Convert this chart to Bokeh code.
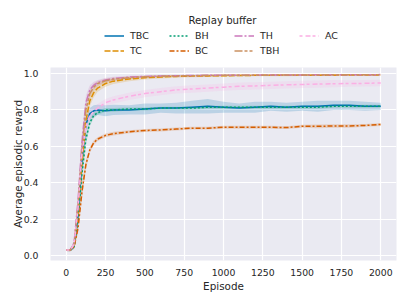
from bokeh.plotting import figure
from bokeh.models import Legend, LegendItem, FixedTicker, Range1d, ColumnDataSource, Label
from bokeh.layouts import column
from bokeh.embed import file_html
from bokeh.resources import INLINE

episodes = [0, 25, 50, 75, 100, 125, 150, 175, 200, 250, 300, 400, 500, 600, 700,
            800, 900, 1000, 1100, 1200, 1300, 1400, 1500, 1600, 1700, 1800, 1900, 2000]

TBC = [0.03, 0.03, 0.05, 0.22, 0.52, 0.72, 0.78, 0.795, 0.80, 0.795, 0.80, 0.80, 0.805, 0.81,
       0.81, 0.815, 0.82, 0.815, 0.81, 0.815, 0.82, 0.815, 0.82, 0.82, 0.825, 0.825, 0.82, 0.82]
TBC_hw = [0.005, 0.006, 0.012, 0.05, 0.06, 0.04, 0.03, 0.03, 0.028, 0.03, 0.028, 0.025, 0.03, 0.025,
          0.03, 0.035, 0.04, 0.03, 0.025, 0.03, 0.025, 0.025, 0.025, 0.03, 0.025, 0.025, 0.025, 0.02]
TC = [0.03, 0.03, 0.05, 0.22, 0.50, 0.74, 0.85, 0.895, 0.92, 0.945, 0.958, 0.97, 0.977, 0.981,
      0.984, 0.986, 0.987, 0.988, 0.989, 0.99, 0.99, 0.99, 0.991, 0.991, 0.991, 0.992, 0.992, 0.992]
TC_hw = [0.005, 0.006, 0.012, 0.05, 0.06, 0.05, 0.03, 0.025, 0.02, 0.018, 0.015, 0.012, 0.01, 0.008,
         0.007, 0.006, 0.006, 0.006, 0.005, 0.005, 0.005, 0.005, 0.005, 0.005, 0.005, 0.005, 0.005, 0.005]
BH = [0.03, 0.03, 0.05, 0.20, 0.45, 0.64, 0.73, 0.77, 0.785, 0.80, 0.80, 0.805, 0.805, 0.81,
      0.81, 0.81, 0.815, 0.815, 0.815, 0.815, 0.815, 0.815, 0.815, 0.815, 0.82, 0.82, 0.82, 0.82]
BH_hw = [0.005, 0.006, 0.012, 0.04, 0.05, 0.03, 0.02, 0.015, 0.012, 0.01, 0.01, 0.008, 0.008, 0.008,
         0.008, 0.008, 0.008, 0.008, 0.008, 0.008, 0.008, 0.008, 0.008, 0.008, 0.008, 0.008, 0.008, 0.008]
BC = [0.03, 0.03, 0.05, 0.15, 0.35, 0.50, 0.58, 0.62, 0.64, 0.66, 0.67, 0.68, 0.687, 0.69,
      0.695, 0.70, 0.70, 0.705, 0.705, 0.705, 0.705, 0.703, 0.71, 0.71, 0.712, 0.712, 0.715, 0.72]
BC_hw = [0.005, 0.006, 0.01, 0.03, 0.04, 0.025, 0.015, 0.012, 0.01, 0.01, 0.01, 0.008, 0.008, 0.008,
         0.008, 0.008, 0.008, 0.008, 0.008, 0.008, 0.008, 0.008, 0.008, 0.01, 0.01, 0.01, 0.008, 0.008]
TH = [0.03, 0.03, 0.07, 0.30, 0.62, 0.84, 0.91, 0.935, 0.95, 0.965, 0.972, 0.98, 0.984, 0.986,
      0.988, 0.989, 0.99, 0.99, 0.991, 0.991, 0.992, 0.992, 0.992, 0.993, 0.993, 0.993, 0.993, 0.994]
TH_hw = [0.005, 0.006, 0.015, 0.05, 0.06, 0.04, 0.025, 0.02, 0.015, 0.012, 0.01, 0.008, 0.006, 0.005,
         0.005, 0.004, 0.004, 0.004, 0.004, 0.004, 0.004, 0.004, 0.004, 0.004, 0.004, 0.004, 0.004, 0.004]
TBH = [0.03, 0.03, 0.06, 0.27, 0.58, 0.80, 0.89, 0.925, 0.945, 0.96, 0.968, 0.977, 0.982, 0.985,
       0.987, 0.988, 0.989, 0.99, 0.99, 0.991, 0.991, 0.992, 0.992, 0.992, 0.993, 0.993, 0.993, 0.993]
TBH_hw = [0.005, 0.006, 0.015, 0.05, 0.06, 0.04, 0.025, 0.02, 0.015, 0.012, 0.01, 0.008, 0.006, 0.005,
          0.005, 0.004, 0.004, 0.004, 0.004, 0.004, 0.004, 0.004, 0.004, 0.004, 0.004, 0.004, 0.004, 0.004]
AC = [0.03, 0.03, 0.06, 0.26, 0.56, 0.71, 0.77, 0.79, 0.81, 0.84, 0.855, 0.875, 0.89, 0.90,
      0.91, 0.915, 0.92, 0.925, 0.93, 0.932, 0.935, 0.938, 0.94, 0.942, 0.944, 0.945, 0.946, 0.948]
AC_hw = [0.005, 0.006, 0.015, 0.05, 0.06, 0.04, 0.03, 0.025, 0.022, 0.02, 0.02, 0.02, 0.02, 0.02,
         0.02, 0.02, 0.02, 0.02, 0.02, 0.02, 0.02, 0.02, 0.02, 0.02, 0.02, 0.018, 0.018, 0.018]

names = ["TBC", "TC", "BH", "BC", "TH", "TBH", "AC"]
series = {"TBC": (TBC, TBC_hw), "TC": (TC, TC_hw), "BH": (BH, BH_hw), "BC": (BC, BC_hw),
          "TH": (TH, TH_hw), "TBH": (TBH, TBH_hw), "AC": (AC, AC_hw)}
colors = {"TBC": "#0173b2", "TC": "#de8f05", "BH": "#029e73", "BC": "#d55e00",
          "TH": "#cc78bc", "TBH": "#ca9161", "AC": "#fbafe4"}
dashes = {"TBC": "solid", "TC": "6 2", "BH": "2 2", "BC": "5 2 2 2",
          "TH": "8 2 2 2", "TBH": "8 2 3 2 3 2", "AC": "3 3 5 2"}

x_ticks = [0, 250, 500, 750, 1000, 1250, 1500, 1750, 2000]
y_ticks = [0.0, 0.2, 0.4, 0.6, 0.8, 1.0]

FONT = "DejaVu Sans"
TXT = "#262626"

# ---- main plot ----
p = figure(width=407, height=238, output_backend="svg", toolbar_location=None,
           x_range=Range1d(-100, 2100), y_range=Range1d(-0.027, 1.033))
p.min_border_left = 50
p.min_border_right = 11
p.min_border_top = 0
p.min_border_bottom = 45
p.background_fill_color = "#eaeaf2"
p.border_fill_color = "white"
p.outline_line_color = None

for ax in (p.xaxis[0], p.yaxis[0]):
    ax.axis_line_color = None
    ax.major_tick_line_color = None
    ax.minor_tick_line_color = None
    ax.major_label_text_font = FONT
    ax.major_label_text_font_size = "9.3px"
    ax.major_label_text_color = TXT
    ax.axis_label_text_font = FONT
    ax.axis_label_text_font_size = "10.4px"
    ax.axis_label_text_font_style = "normal"
    ax.axis_label_text_color = TXT

p.xaxis.major_label_standoff = 2
p.xaxis.axis_label_standoff = 1
p.yaxis.major_label_standoff = 6
p.yaxis.axis_label_standoff = -3
p.xaxis.ticker = FixedTicker(ticks=x_ticks)
p.yaxis.ticker = FixedTicker(ticks=y_ticks)
p.yaxis.major_label_overrides = {t: f"{t:.1f}" for t in y_ticks}
p.xaxis.axis_label = "Episode"
p.yaxis.axis_label = "Average episodic reward"
p.xgrid.grid_line_color = "white"
p.ygrid.grid_line_color = "white"
p.xgrid.grid_line_width = 1.2
p.ygrid.grid_line_width = 1.2

sources = {}
for n in names:
    vals, hw = series[n]
    lo = [v - h for v, h in zip(vals, hw)]
    hi = [v + h for v, h in zip(vals, hw)]
    sources[n] = ColumnDataSource(dict(x=episodes, y=vals, lo=lo, hi=hi))
    p.varea(x="x", y1="lo", y2="hi", source=sources[n], fill_color=colors[n], fill_alpha=0.2)
for n in names:
    p.line(x="x", y="y", source=sources[n], line_color=colors[n], line_width=1.5,
           line_dash=dashes[n])

# ---- legend strip on top (its ranges keep the series out of view; only the key shows) ----
lp = figure(width=407, height=67, output_backend="svg", toolbar_location=None,
            x_range=Range1d(5000, 6000), y_range=Range1d(5, 6))
lp.min_border = 0
lp.min_border_left = 50
lp.min_border_right = 11
lp.axis.visible = False
lp.grid.visible = False
lp.outline_line_color = None
lp.background_fill_color = "white"
lp.border_fill_color = "white"

key = {}
for n in names:
    key[n] = lp.line(x="x", y="y", source=sources[n], line_color=colors[n], line_width=1.5,
                     line_dash=dashes[n])


def make_legend(items, loc):
    lg = Legend(items=[LegendItem(label=n, renderers=[key[n]]) for n in items],
                orientation="horizontal")
    lg.label_text_font = FONT
    lg.label_text_font_size = "9.5px"
    lg.label_text_color = TXT
    lg.border_line_color = None
    lg.background_fill_alpha = 0
    lg.glyph_width = 20
    lg.glyph_height = 13
    lg.label_height = 13
    lg.label_width = 24
    lg.label_standoff = 6
    lg.spacing = 15
    lg.padding = 1
    lg.margin = 0
    lg.location = loc
    return lg


lp.add_layout(make_legend(["TBC", "BH", "TH", "AC"], (54, 25)), "center")
lp.add_layout(make_legend(["TC", "BC", "TBH"], (54, 10)), "center")
lp.add_layout(Label(x=172, y=47, x_units="screen", y_units="screen", text="Replay buffer",
                    text_font=FONT, text_font_size="10.2px", text_color=TXT,
                    text_align="center", text_baseline="middle"), "center")

layout = column(lp, p, spacing=0)
open("out.html", "w").write(file_html(layout, INLINE))
